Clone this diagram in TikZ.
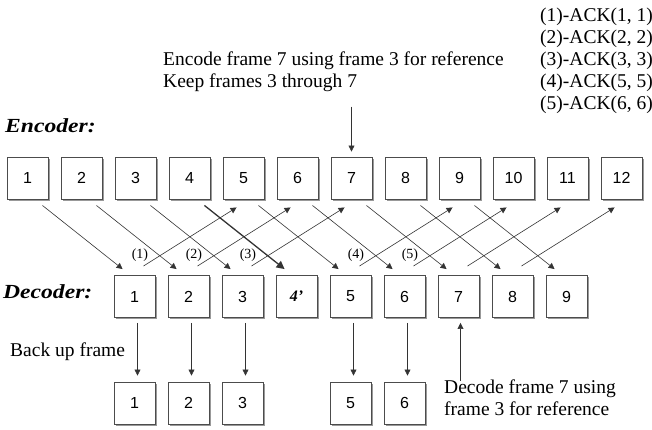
\documentclass[tikz,border=0pt]{standalone}
\usepackage{fontspec}
\setmainfont{Liberation Serif}
\newfontfamily\digitfont{Liberation Sans}
\usetikzlibrary{arrows.meta,shadows}

\tikzset{
  frame/.style={draw=black!70, line width=0.9pt, fill=white, minimum width=41pt,
    minimum height=42pt, inner sep=0pt, font=\digitfont\fontsize{16}{18}\selectfont,
    drop shadow={shadow xshift=1.5pt, shadow yshift=-1.5pt, fill=black!40, opacity=1}},
  link/.style={-{Triangle[length=6pt,width=6pt]}, line width=0.6pt, draw=black!80},
  note/.style={inner sep=0pt, anchor=base west, font=\fontsize{19.5}{22}\selectfont},
  ack/.style={inner sep=0pt, font=\fontsize{14}{16}\selectfont},
  side/.style={inner sep=0pt, anchor=base west, font=\fontsize{20}{22}\selectfont\bfseries\itshape}
}

\begin{document}
\begin{tikzpicture}[x=1pt,y=-1pt]
  \useasboundingbox (0,0) rectangle (652,429);

  % list of acknowledgements
  \foreach \t [count=\i] in {{(1)-ACK(1, 1)},{(2)-ACK(2, 2)},{(3)-ACK(3, 3)},{(4)-ACK(5, 5)},{(5)-ACK(6, 6)}}
    \node[note] (ack\i) at (540,{21+22*(\i-1)}) {\t};

  % encoder
  \node[note] (enc1) at (163,65) {Encode frame 7 using frame 3 for reference};
  \node[note] (enc2) at (163,87) {Keep frames 3 through 7};
  \node[side] (enclabel) at (5,132) {\scalebox{1.18}[1]{Encoder:}};
  \foreach \k in {1,...,12}
    \node[frame] (e\k) at ({27.5+54*(\k-1)},178) {\k};
  \coordinate (enc7in) at ([yshift=50pt]e7.north);
  \draw[link] (enc7in) -- ([yshift=5pt]e7.north);

  % decoder
  \node[side] (declabel) at (3,298) {\scalebox{1.18}[1]{Decoder:}};
  \foreach \k/\t in {1/1,2/2,3/3,4/{\rmfamily\bfseries\itshape 4'},5/5,6/6,7/7,8/8,9/9}
    \node[frame] (d\k) at ({134.5+54*(\k-1)},296.5) {\t};

  % backed up frames
  \foreach \k in {1,2,3,5,6}
    \node[frame] (b\k) at ([yshift=-106.5pt]d\k) {\k};

  % frames sent
  \foreach \k in {1,2,3,5,6,7,8,9}
    \draw[link] ([xshift=-6pt,yshift=-6pt]e\k.south east) -- ([xshift=9pt,yshift=6pt]d\k.north west);
  \draw[link, line width=1.3pt, -{Triangle[length=8pt,width=8pt]}]
    ([xshift=-6pt,yshift=-6pt]e4.south east) -- ([xshift=9pt,yshift=6pt]d4.north west);

  % acks sent back
  \foreach \k/\m/\t in {1/5/(1),2/6/(2),3/7/(3),5/9/(4),6/10/(5)}
    \draw[link] ([xshift=-12pt,yshift=9pt]d\k.north east)
      -- node[ack, pos=0, anchor=south east, xshift=5pt, yshift=4pt] (l\k) {\t}
      ([xshift=14pt,yshift=-8pt]e\m.south west);
  \foreach \k/\m in {7/11,8/12}
    \draw[link] ([xshift=-12pt,yshift=9pt]d\k.north east) -- ([xshift=14pt,yshift=-8pt]e\m.south west);

  % back up
  \node[note] (backup) at (10,356) {Back up frame};
  \foreach \k in {1,2,3,5,6}
    \draw[link] ([xshift=3pt,yshift=-5pt]d\k.south) -- ([xshift=3pt,yshift=6pt]b\k.north);

  % decode
  \coordinate (dec7in) at ([xshift=2pt,yshift=-63pt]d7.south);
  \draw[link] (dec7in) -- ([xshift=2pt,yshift=-5pt]d7.south);
  \node[note] (dec1) at (444,393) {Decode frame 7 using};
  \node[note] (dec2) at (444,415) {frame 3 for reference};
\end{tikzpicture}
\end{document}
